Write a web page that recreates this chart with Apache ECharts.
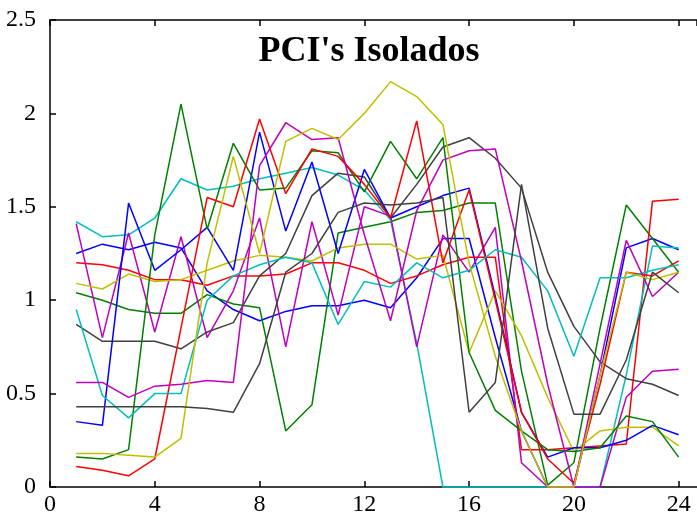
<!DOCTYPE html>
<html>
<head>
<meta charset="utf-8">
<script src="https://cdn.jsdelivr.net/npm/echarts@6/dist/echarts.min.js"></script>
<style>
  html, body { margin: 0; padding: 0; background: #ffffff; }
  #chart { width: 697px; height: 517px; }
</style>
</head>
<body>
<div id="chart"></div>
<script>
// Hour index of each sample
const hours = [1,2,3,4,5,6,7,8,9,10,11,12,13,14,15,16,17,18,19,20,21,22,23,24];

// PCI values per channel, 24 samples each
const blueA    = [1.25,1.30,1.27,1.31,1.28,1.05,0.95,0.89,0.94,0.97,0.97,1.00,0.96,1.12,1.33,1.33,0.80,0.30,0.00,0.00,0.60,1.28,1.33,1.27];
const greenA   = [1.04,1.00,0.95,0.93,0.93,1.03,0.98,0.96,0.30,0.44,1.36,1.39,1.42,1.47,1.48,1.52,1.52,0.62,0.01,0.13,0.85,1.51,1.33,1.15];
const redA     = [1.20,1.19,1.16,1.11,1.11,1.08,1.13,1.13,1.14,1.20,1.20,1.16,1.09,1.13,1.19,1.23,1.23,0.20,0.20,0.21,0.22,0.23,1.53,1.54];
const cyanA    = [1.42,1.34,1.35,1.44,1.65,1.59,1.61,1.65,1.68,1.71,1.67,1.59,1.43,0.77,0.00,0.00,0.00,0.00,0.00,0.00,0.00,0.60,1.29,1.28];
const magentaA = [1.41,0.80,1.36,0.83,1.34,0.80,1.05,1.44,0.75,1.42,0.92,1.50,1.45,0.75,1.35,1.15,1.39,0.13,0.00,0.00,0.00,0.48,0.62,0.63];
const yellowA  = [1.09,1.06,1.14,1.10,1.11,1.16,1.21,1.24,1.23,1.21,1.28,1.30,1.30,1.22,1.24,0.72,1.05,0.81,0.48,0.19,0.30,0.32,0.32,0.22];
const grayA    = [0.87,0.78,0.78,0.78,0.74,0.83,0.88,1.13,1.25,1.56,1.68,1.66,1.44,1.62,1.82,1.87,1.76,1.60,1.15,0.86,0.67,0.58,0.55,0.49];
const blueB    = [0.35,0.33,1.52,1.16,1.27,1.39,1.16,1.90,1.37,1.74,1.25,1.70,1.44,1.50,1.56,1.60,1.02,0.40,0.16,0.21,0.21,0.25,0.33,0.28];
const greenB   = [0.16,0.15,0.20,1.35,2.05,1.38,1.84,1.59,1.60,1.80,1.79,1.58,1.85,1.65,1.87,0.72,0.41,0.30,0.20,0.19,0.21,0.38,0.35,0.16];
const redB     = [0.11,0.09,0.06,0.15,0.85,1.55,1.50,1.97,1.57,1.81,1.77,1.62,1.44,1.96,1.20,1.59,1.00,0.40,0.15,0.02,0.55,1.15,1.13,1.21];
const cyanB    = [0.95,0.49,0.37,0.50,0.50,1.00,1.13,1.19,1.23,1.20,0.87,1.10,1.07,1.20,1.12,1.16,1.27,1.23,1.05,0.70,1.12,1.12,1.16,1.19];
const magentaB = [0.56,0.56,0.48,0.54,0.55,0.57,0.56,1.72,1.95,1.86,1.87,1.35,0.89,1.48,1.75,1.80,1.81,1.21,0.55,0.00,0.66,1.32,1.02,1.15];
const yellowB  = [0.18,0.18,0.17,0.16,0.26,1.20,1.77,1.25,1.85,1.92,1.86,2.00,2.17,2.09,1.94,1.20,0.70,0.30,0.00,0.00,0.60,1.15,1.11,1.15];
const grayB    = [0.43,0.43,0.43,0.43,0.43,0.42,0.40,0.66,1.15,1.25,1.47,1.52,1.51,1.52,1.55,0.40,0.56,1.62,0.85,0.39,0.39,0.68,1.15,1.04];

// Axis ticks
const xTicks = [0,4,8,12,16,20,24];
const yTicks = [0,0.5,1,1.5,2,2.5];

const palette = {
  blue: '#0000ff', green: '#008000', red: '#ff0000', cyan: '#00bfbf',
  magenta: '#bf00bf', yellow: '#bfbf00', gray: '#404040'
};

const seriesDefs = [
  [blueA, palette.blue], [greenA, palette.green], [redA, palette.red],
  [cyanA, palette.cyan], [magentaA, palette.magenta], [yellowA, palette.yellow],
  [grayA, palette.gray],
  [blueB, palette.blue], [greenB, palette.green], [redB, palette.red],
  [cyanB, palette.cyan], [magentaB, palette.magenta], [yellowB, palette.yellow],
  [grayB, palette.gray]
];

const labelFont = { fontFamily: 'Liberation Serif', fontSize: 24, color: '#000' };

const chart = echarts.init(document.getElementById('chart'), null, { renderer: 'canvas' });
chart.setOption({
  animation: false,
  backgroundColor: '#ffffff',
  title: {
    text: "PCI's Isolados",
    left: 364, top: 29, textAlign: 'center',
    textStyle: { fontFamily: 'Liberation Serif', fontWeight: 'bold', fontSize: 36, color: '#000' }
  },
  grid: { left: 50, right: 0, top: 20, bottom: 30 },
  xAxis: [{
    type: 'value', min: 0, max: 24.7, interval: 4,
    axisLine: { lineStyle: { color: '#000', width: 1.5 } },
    axisTick: { inside: true, length: 6, lineStyle: { color: '#000', width: 1.5 } },
    splitLine: { show: false },
    axisLabel: Object.assign({
      margin: 6, showMaxLabel: false,
      formatter: v => (xTicks.indexOf(v) >= 0 ? String(v) : '')
    }, labelFont)
  }, {
    type: 'value', min: 0, max: 24.7, interval: 4, position: 'top',
    axisLine: { lineStyle: { color: '#000', width: 1.5 } },
    axisTick: { inside: true, length: 6, lineStyle: { color: '#000', width: 1.5 } },
    axisLabel: { show: false }, splitLine: { show: false }
  }],
  yAxis: {
    type: 'value', min: 0, max: 2.5, interval: 0.5,
    axisLine: { lineStyle: { color: '#000', width: 1.5 } },
    axisTick: { inside: true, length: 6, lineStyle: { color: '#000', width: 1.5 } },
    splitLine: { show: false },
    axisLabel: Object.assign({
      margin: 14,
      formatter: v => (yTicks.indexOf(v) >= 0 ? String(v) : '')
    }, labelFont)
  },
  series: seriesDefs.map(([vals, color]) => ({
    type: 'line',
    data: hours.map((h, i) => [h, vals[i]]),
    showSymbol: false,
    clip: false,
    lineStyle: { color: color, width: 1.5 },
    itemStyle: { color: color }
  }))
});
</script>
</body>
</html>
